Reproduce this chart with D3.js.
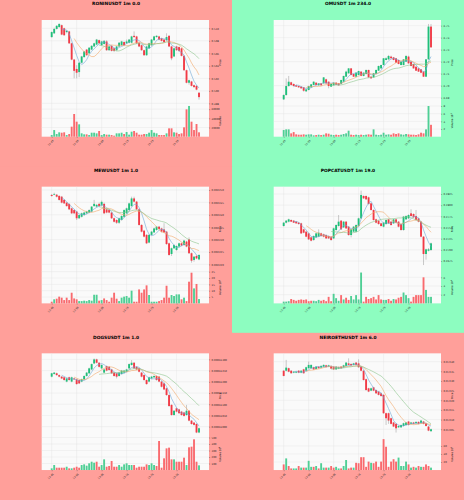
<!DOCTYPE html>
<html>
<head>
<meta charset="utf-8">
<script src="https://cdn.jsdelivr.net/npm/d3@7"></script>
<style>
  body { margin: 0; background: #fff; }
  svg { display: block; font-family: "DejaVu Sans", sans-serif; }
</style>
</head>
<body>
<svg id="chart" width="464" height="500"></svg>
<script>
// shared time axis (1m candles, one label every 10 candles)
var timeLabels = ["12:45", "12:55", "13:05", "13:15", "13:25", "13:35"];
var timeTickIndex = [0, 10, 20, 30, 40, 50];

// RONINUSDT 1m  [open, high, low, close]
var roninCandles = [
  [0.5086,0.5095,0.5085,0.5094],[0.5092,0.5101,0.5091,0.5099],[0.5099,0.5105,0.5098,0.5104],[0.5102,0.5108,0.5101,0.5107],
  [0.5105,0.5106,0.5089,0.5090],[0.5100,0.5101,0.5088,0.5089],[0.5094,0.5097,0.5092,0.5096],[0.5095,0.5096,0.5075,0.5076],
  [0.5076,0.5077,0.5049,0.5050],[0.5050,0.5051,0.5020,0.5032],[0.5035,0.5041,0.5020,0.5029],[0.5030,0.5046,0.5022,0.5045],
  [0.5045,0.5056,0.5044,0.5055],[0.5054,0.5064,0.5053,0.5063],[0.5066,0.5067,0.5056,0.5057],[0.5060,0.5070,0.5059,0.5069],
  [0.5066,0.5073,0.5065,0.5072],[0.5071,0.5077,0.5070,0.5076],[0.5074,0.5083,0.5073,0.5082],[0.5081,0.5082,0.5075,0.5076],
  [0.5073,0.5080,0.5072,0.5079],[0.5075,0.5081,0.5074,0.5080],[0.5079,0.5081,0.5064,0.5065],[0.5065,0.5072,0.5064,0.5071],
  [0.5072,0.5073,0.5063,0.5064],[0.5068,0.5069,0.5062,0.5064],[0.5065,0.5072,0.5064,0.5071],[0.5071,0.5078,0.5070,0.5077],
  [0.5073,0.5080,0.5072,0.5079],[0.5078,0.5079,0.5072,0.5073],[0.5076,0.5082,0.5075,0.5079],[0.5077,0.5083,0.5076,0.5082],
  [0.5077,0.5088,0.5076,0.5087],[0.5088,0.5095,0.5085,0.5086],[0.5087,0.5088,0.5075,0.5076],[0.5077,0.5078,0.5070,0.5071],
  [0.5073,0.5074,0.5064,0.5065],[0.5065,0.5066,0.5056,0.5057],[0.5057,0.5072,0.5056,0.5071],[0.5068,0.5077,0.5067,0.5076],
  [0.5073,0.5083,0.5072,0.5082],[0.5081,0.5088,0.5080,0.5087],[0.5086,0.5089,0.5085,0.5088],[0.5087,0.5088,0.5081,0.5082],
  [0.5084,0.5085,0.5079,0.5080],[0.5082,0.5083,0.5077,0.5078],[0.5081,0.5092,0.5080,0.5086],[0.5088,0.5089,0.5070,0.5071],
  [0.5071,0.5072,0.5049,0.5052],[0.5055,0.5069,0.5054,0.5068],[0.5071,0.5072,0.5064,0.5065],[0.5070,0.5071,0.5062,0.5064],
  [0.5068,0.5069,0.5055,0.5056],[0.5056,0.5057,0.5032,0.5033],[0.5033,0.5034,0.5012,0.5013],[0.5013,0.5018,0.5010,0.5017],
  [0.5015,0.5016,0.5007,0.5008],[0.5009,0.5010,0.5005,0.5006],[0.5008,0.5009,0.5001,0.5002],[0.4997,0.4998,0.4986,0.4990]
];
var roninVolume = [3600,14500,5800,9500,8700,9500,3600,5800,21800,49400,32700,26900,7300,5100,5100,3600,8700,8700,7300,12400,
  3600,5800,4400,4400,3600,2200,7300,7300,8700,5800,10200,4400,10900,12400,8700,4400,4400,5800,5800,8700,
  14500,8700,7300,3600,3600,3600,7300,18200,18200,9500,8700,5800,7300,20400,59600,66900,32700,14500,27600,9500];
var roninPriceTicks = [0.498, 0.500, 0.502, 0.504, 0.506, 0.508, 0.510];
var roninPriceRange = [0.49774, 0.51133];
var roninVolumeTicks = [20000, 40000, 60000];
var roninVolumeRange = [0, 69000];

// OMUSDT 1m
var omCandles = [
  [6.6886,6.6928,6.6881,6.6922],[6.6922,6.7061,6.6917,6.6997],[6.6997,6.7081,6.6992,6.7033],[6.7028,6.7033,6.7000,6.7006],
  [6.7014,6.7019,6.6994,6.6997],[6.7003,6.7008,6.6989,6.6992],[6.6997,6.7000,6.6983,6.6986],[6.6992,6.6995,6.6975,6.6978],
  [6.6986,6.6989,6.6950,6.6958],[6.6953,6.6972,6.6947,6.6969],[6.6964,6.7000,6.6961,6.6997],[6.6986,6.7014,6.6983,6.7011],
  [6.7006,6.7036,6.7003,6.7033],[6.7025,6.7028,6.7003,6.7006],[6.7003,6.7022,6.7000,6.7019],[6.7019,6.7022,6.7000,6.7003],
  [6.7019,6.7072,6.7017,6.7069],[6.7053,6.7058,6.7017,6.7019],[6.7033,6.7036,6.6978,6.6997],[6.6992,6.7017,6.6989,6.7014],
  [6.7003,6.7028,6.7000,6.7025],[6.7025,6.7028,6.7006,6.7008],[6.7019,6.7022,6.7000,6.7003],[6.7014,6.7050,6.7011,6.7047],
  [6.7033,6.7083,6.7031,6.7081],[6.7075,6.7125,6.7072,6.7117],[6.7103,6.7147,6.7100,6.7144],[6.7144,6.7147,6.7086,6.7089],
  [6.7097,6.7100,6.7072,6.7075],[6.7075,6.7111,6.7072,6.7108],[6.7089,6.7125,6.7086,6.7122],[6.7117,6.7120,6.7078,6.7081],
  [6.7081,6.7111,6.7078,6.7108],[6.7097,6.7133,6.7094,6.7131],[6.7131,6.7133,6.7067,6.7069],[6.7075,6.7078,6.7058,6.7061],
  [6.7069,6.7106,6.7067,6.7103],[6.7097,6.7133,6.7094,6.7131],[6.7125,6.7167,6.7122,6.7164],[6.7144,6.7175,6.7142,6.7172],
  [6.7172,6.7230,6.7169,6.7228],[6.7214,6.7236,6.7211,6.7228],[6.7219,6.7256,6.7217,6.7247],[6.7242,6.7250,6.7225,6.7228],
  [6.7236,6.7239,6.7211,6.7214],[6.7228,6.7231,6.7189,6.7192],[6.7214,6.7217,6.7178,6.7181],[6.7172,6.7206,6.7169,6.7200],
  [6.7172,6.7222,6.7169,6.7219],[6.7200,6.7256,6.7197,6.7247],[6.7242,6.7250,6.7183,6.7186],[6.7200,6.7203,6.7161,6.7164],
  [6.7181,6.7183,6.7142,6.7144],[6.7158,6.7161,6.7122,6.7125],[6.7144,6.7147,6.7114,6.7117],[6.7136,6.7139,6.7106,6.7108],
  [6.7117,6.7120,6.7072,6.7075],[6.7075,6.7222,6.7072,6.7219],[6.7219,6.7514,6.7217,6.7492],[6.7492,6.7514,6.7317,6.7319]
];
var omVolume = [1.74,1.91,1.91,0.87,1.2,0.61,0.52,0.52,0.61,0.52,0.61,0.61,0.35,0.43,0.52,0.43,0.52,0.87,0.78,0.52,
  0.43,0.52,0.43,0.52,0.7,0.87,1.57,0.52,0.43,0.52,0.43,0.52,0.43,0.52,0.61,0.52,1.91,0.52,0.43,0.52,
  1.04,0.52,0.61,0.52,0.87,0.7,0.87,0.61,0.52,0.7,0.61,0.52,0.52,0.43,0.61,1.04,0.87,1.91,8.0,3.1];
var omPriceTicks = [6.69, 6.70, 6.71, 6.72, 6.73, 6.74, 6.75];
var omPriceRange = [6.6839, 6.7547];
var omVolumeTicks = [2, 4, 6, 8];
var omVolumeRange = [0, 8.26];

// MEWUSDT 1m
var mewCandles = [
  [0.0022480,0.0022484,0.0022473,0.0022476],[0.0022481,0.0022489,0.0022479,0.0022484],[0.0022481,0.0022484,0.0022470,0.0022473],[0.0022476,0.0022479,0.0022457,0.0022460],
  [0.0022473,0.0022476,0.0022446,0.0022449],[0.0022460,0.0022463,0.0022444,0.0022446],[0.0022449,0.0022452,0.0022433,0.0022435],[0.0022444,0.0022446,0.0022419,0.0022422],
  [0.0022426,0.0022429,0.0022403,0.0022406],[0.0022419,0.0022422,0.0022403,0.0022406],[0.0022413,0.0022416,0.0022379,0.0022386],[0.0022386,0.0022402,0.0022383,0.0022399],
  [0.0022392,0.0022409,0.0022389,0.0022406],[0.0022399,0.0022413,0.0022395,0.0022409],[0.0022406,0.0022416,0.0022403,0.0022413],[0.0022409,0.0022422,0.0022406,0.0022419],
  [0.0022413,0.0022435,0.0022410,0.0022433],[0.0022435,0.0022460,0.0022433,0.0022444],[0.0022433,0.0022444,0.0022430,0.0022440],[0.0022444,0.0022449,0.0022433,0.0022435],
  [0.0022438,0.0022457,0.0022435,0.0022452],[0.0022444,0.0022449,0.0022403,0.0022406],[0.0022422,0.0022426,0.0022406,0.0022409],[0.0022419,0.0022422,0.0022406,0.0022409],
  [0.0022409,0.0022412,0.0022383,0.0022386],[0.0022386,0.0022389,0.0022369,0.0022372],[0.0022379,0.0022382,0.0022363,0.0022368],[0.0022368,0.0022389,0.0022363,0.0022386],
  [0.0022379,0.0022398,0.0022376,0.0022395],[0.0022392,0.0022422,0.0022389,0.0022419],[0.0022406,0.0022429,0.0022403,0.0022426],[0.0022419,0.0022449,0.0022416,0.0022446],
  [0.0022435,0.0022473,0.0022433,0.0022466],[0.0022466,0.0022473,0.0022450,0.0022453],[0.0022453,0.0022456,0.0022419,0.0022422],[0.0022422,0.0022426,0.0022356,0.0022359],
  [0.0022359,0.0022362,0.0022329,0.0022332],[0.0022336,0.0022339,0.0022309,0.0022312],[0.0022319,0.0022322,0.0022282,0.0022285],[0.0022288,0.0022322,0.0022285,0.0022319],
  [0.0022319,0.0022335,0.0022316,0.0022332],[0.0022329,0.0022348,0.0022326,0.0022345],[0.0022339,0.0022355,0.0022336,0.0022352],[0.0022352,0.0022355,0.0022340,0.0022343],
  [0.0022345,0.0022348,0.0022329,0.0022332],[0.0022341,0.0022366,0.0022326,0.0022329],[0.0022332,0.0022335,0.0022279,0.0022282],[0.0022285,0.0022288,0.0022235,0.0022238],
  [0.0022242,0.0022268,0.0022234,0.0022265],[0.0022265,0.0022281,0.0022262,0.0022278],[0.0022258,0.0022277,0.0022255,0.0022274],[0.0022272,0.0022288,0.0022269,0.0022285],
  [0.0022285,0.0022288,0.0022273,0.0022276],[0.0022278,0.0022299,0.0022275,0.0022296],[0.0022292,0.0022295,0.0022269,0.0022272],[0.0022301,0.0022309,0.0022242,0.0022245],
  [0.0022245,0.0022248,0.0022207,0.0022215],[0.0022218,0.0022234,0.0022211,0.0022231],[0.0022234,0.0022237,0.0022221,0.0022224],[0.0022220,0.0022241,0.0022217,0.0022238]
];
var mewVolume = [1.3,3.2,3.7,5.3,4.5,2.6,4.5,2.6,8.4,3.9,3.2,1.8,1.8,2.1,1.8,2.6,2.1,6.8,6.8,2.1,
  2.6,3.9,2.6,1.3,4.5,8.4,3.7,1.8,4.5,5.3,5.8,4.5,10,1.3,1.3,11,8.4,11,14.2,6.6,
  1.3,1.3,1.3,1.8,2.6,4.5,13.9,4.5,6.6,5.8,7.1,7.1,3.2,4.5,1.8,17.1,24.2,11.8,15.3,3.4];
var mewPriceTicks = [0.002220, 0.002225, 0.002230, 0.002235, 0.002240, 0.002245, 0.002250];
var mewPriceRange = [0.00221707, 0.00225134];
var mewVolumeTicks = [5, 10, 15, 20, 25];
var mewVolumeRange = [0, 25];

// POPCATUSDT 1m
var popcatCandles = [
  [0.27534,0.27623,0.27519,0.27608],[0.27608,0.27668,0.27593,0.27653],[0.27631,0.27698,0.27616,0.27683],[0.27668,0.27683,0.27623,0.27631],
  [0.27653,0.27668,0.27601,0.27608],[0.27631,0.27646,0.27586,0.27593],[0.27608,0.27623,0.27563,0.27578],[0.27593,0.27608,0.27354,0.27369],
  [0.27459,0.27474,0.27370,0.27384],[0.27407,0.27422,0.27280,0.27295],[0.27369,0.27384,0.27220,0.27235],[0.27280,0.27295,0.27190,0.27205],
  [0.27220,0.27325,0.27205,0.27310],[0.27280,0.27384,0.27265,0.27369],[0.27295,0.27459,0.27280,0.27384],[0.27369,0.27384,0.27295,0.27310],
  [0.27347,0.27362,0.27280,0.27295],[0.27332,0.27347,0.27242,0.27257],[0.27310,0.27325,0.27242,0.27257],[0.27295,0.27310,0.27205,0.27220],
  [0.27257,0.27496,0.27242,0.27481],[0.27444,0.27571,0.27429,0.27556],[0.27534,0.27780,0.27519,0.27631],[0.27653,0.27668,0.27444,0.27459],
  [0.27504,0.27646,0.27489,0.27631],[0.27631,0.27646,0.27466,0.27481],[0.27519,0.27534,0.27317,0.27332],[0.27332,0.27474,0.27280,0.27459],
  [0.27407,0.27534,0.27392,0.27519],[0.27407,0.27571,0.27392,0.27556],[0.27534,0.27720,0.27519,0.27705],[0.27705,0.28325,0.27690,0.28228],
  [0.28205,0.28220,0.28138,0.28153],[0.28205,0.28220,0.28116,0.28131],[0.28175,0.28190,0.28011,0.28026],[0.28041,0.28056,0.27877,0.27892],
  [0.27892,0.27907,0.27653,0.27668],[0.27683,0.27698,0.27593,0.27608],[0.27653,0.27668,0.27563,0.27578],[0.27593,0.27608,0.27519,0.27534],
  [0.27519,0.27623,0.27504,0.27608],[0.27578,0.27683,0.27563,0.27668],[0.27683,0.27698,0.27578,0.27593],[0.27631,0.27646,0.27541,0.27556],
  [0.27593,0.27698,0.27578,0.27683],[0.27683,0.27698,0.27593,0.27608],[0.27631,0.27646,0.27504,0.27519],[0.27578,0.27593,0.27429,0.27444],
  [0.27444,0.27758,0.27429,0.27743],[0.27683,0.27773,0.27668,0.27758],[0.27705,0.27795,0.27690,0.27780],[0.27817,0.27907,0.27743,0.27758],
  [0.27802,0.27817,0.27713,0.27728],[0.27758,0.27892,0.27653,0.27668],[0.27705,0.27720,0.27616,0.27631],[0.27631,0.27646,0.27280,0.27295],
  [0.27295,0.27310,0.26660,0.26907],[0.26907,0.27026,0.26781,0.27011],[0.26981,0.27041,0.26966,0.27011],[0.26996,0.27161,0.26981,0.27146]
];
var popcatVolume = [0.4,0.4,0.5,1.0,0.8,0.6,0.8,0.9,0.8,0.9,0.5,0.6,0.6,0.5,0.8,0.6,0.8,0.5,1.5,0.5,
  2.2,1.2,0.6,1.9,0.9,1.3,0.8,1.7,0.9,1.9,0.9,7.1,0.4,1.5,1.0,1.2,1.5,0.9,1.9,0.9,
  0.8,0.8,1.0,0.6,1.0,0.9,1.3,1.5,2.5,1.9,1.2,0.4,1.5,1.9,1.9,1.9,6.0,3.1,1.5,1.5];
var popcatPriceTicks = [0.2675, 0.2700, 0.2725, 0.2750, 0.2775, 0.2800, 0.2825];
var popcatPriceRange = [0.26512, 0.28414];
var popcatVolumeTicks = [2, 4, 6];
var popcatVolumeRange = [0, 7.3];

// DOGSUSDT 1m
var dogsCandles = [
  [0.00061223,0.00061240,0.00061220,0.00061238],[0.00061235,0.00061244,0.00061232,0.00061241],[0.00061238,0.00061241,0.00061227,0.00061230],[0.00061230,0.00061233,0.00061220,0.00061223],
  [0.00061223,0.00061226,0.00061212,0.00061215],[0.00061220,0.00061223,0.00061205,0.00061208],[0.00061201,0.00061218,0.00061198,0.00061215],[0.00061220,0.00061223,0.00061205,0.00061208],
  [0.00061201,0.00061223,0.00061198,0.00061220],[0.00061215,0.00061218,0.00061208,0.00061211],[0.00061211,0.00061214,0.00061187,0.00061190],[0.00061208,0.00061211,0.00061190,0.00061193],
  [0.00061201,0.00061214,0.00061198,0.00061211],[0.00061211,0.00061229,0.00061208,0.00061226],[0.00061226,0.00061244,0.00061223,0.00061241],[0.00061238,0.00061263,0.00061235,0.00061260],
  [0.00061255,0.00061282,0.00061252,0.00061279],[0.00061282,0.00061304,0.00061279,0.00061300],[0.00061300,0.00061303,0.00061282,0.00061285],[0.00061285,0.00061288,0.00061264,0.00061267],
  [0.00061260,0.00061278,0.00061257,0.00061275],[0.00061241,0.00061258,0.00061238,0.00061255],[0.00061270,0.00061273,0.00061247,0.00061250],[0.00061267,0.00061270,0.00061250,0.00061253],
  [0.00061255,0.00061258,0.00061235,0.00061238],[0.00061241,0.00061244,0.00061223,0.00061226],[0.00061238,0.00061241,0.00061215,0.00061223],[0.00061226,0.00061244,0.00061223,0.00061241],
  [0.00061235,0.00061253,0.00061232,0.00061250],[0.00061241,0.00061253,0.00061238,0.00061250],[0.00061245,0.00061258,0.00061242,0.00061255],[0.00061260,0.00061282,0.00061257,0.00061279],
  [0.00061275,0.00061297,0.00061272,0.00061285],[0.00061285,0.00061288,0.00061257,0.00061260],[0.00061267,0.00061270,0.00061252,0.00061255],[0.00061260,0.00061263,0.00061242,0.00061245],
  [0.00061241,0.00061244,0.00061220,0.00061223],[0.00061230,0.00061233,0.00061205,0.00061208],[0.00061208,0.00061211,0.00061187,0.00061190],[0.00061201,0.00061223,0.00061198,0.00061220],
  [0.00061215,0.00061226,0.00061212,0.00061223],[0.00061220,0.00061229,0.00061217,0.00061226],[0.00061226,0.00061229,0.00061205,0.00061208],[0.00061223,0.00061226,0.00061198,0.00061201],
  [0.00061201,0.00061204,0.00061175,0.00061178],[0.00061193,0.00061196,0.00061163,0.00061166],[0.00061171,0.00061174,0.00061138,0.00061141],[0.00061141,0.00061144,0.00061089,0.00061092],
  [0.00061097,0.00061100,0.00061049,0.00061052],[0.00061052,0.00061074,0.00061049,0.00061071],[0.00061082,0.00061085,0.00061064,0.00061067],[0.00061077,0.00061080,0.00061057,0.00061060],
  [0.00061067,0.00061070,0.00061049,0.00061052],[0.00061063,0.00061066,0.00061045,0.00061048],[0.00061052,0.00061097,0.00061049,0.00061071],[0.00061071,0.00061074,0.00061024,0.00061027],
  [0.00061027,0.00061030,0.00061009,0.00061012],[0.00061018,0.00061021,0.00061005,0.00061008],[0.00061012,0.00061015,0.00060971,0.00060974],[0.00060974,0.00060996,0.00060971,0.00060993]
];
var dogsVolume = [26,77,36,36,36,36,51,26,26,36,51,36,77,87,67,103,128,113,128,51,
  77,164,51,62,139,51,51,77,51,87,103,77,77,77,36,51,51,51,87,77,
  103,77,62,446,36,180,333,344,164,164,128,128,128,190,77,349,359,472,128,72];
var dogsPriceTicks = [0.00061000, 0.00061050, 0.00061100, 0.00061150, 0.00061200, 0.00061250, 0.00061300];
var dogsPriceRange = [0.00060948, 0.00061327];
var dogsVolumeTicks = [100, 200, 300, 400, 500];
var dogsVolumeRange = [0, 487];

// NEIROETHUSDT 1m
var neiroCandles = [
  [0.072353,0.072356,0.072324,0.072326],[0.072353,0.072409,0.072350,0.072369],[0.072366,0.072369,0.072345,0.072348],[0.072353,0.072356,0.072337,0.072340],
  [0.072343,0.072351,0.072340,0.072348],[0.072343,0.072351,0.072340,0.072348],[0.072353,0.072356,0.072340,0.072343],[0.072343,0.072356,0.072340,0.072353],
  [0.072360,0.072363,0.072337,0.072340],[0.072353,0.072374,0.072350,0.072371],[0.072366,0.072400,0.072363,0.072383],[0.072366,0.072386,0.072363,0.072383],
  [0.072371,0.072374,0.072357,0.072360],[0.072362,0.072377,0.072359,0.072374],[0.072374,0.072377,0.072363,0.072366],[0.072369,0.072381,0.072366,0.072378],
  [0.072374,0.072386,0.072371,0.072383],[0.072381,0.072384,0.072369,0.072372],[0.072374,0.072384,0.072371,0.072381],[0.072378,0.072381,0.072361,0.072364],
  [0.072374,0.072377,0.072357,0.072360],[0.072360,0.072377,0.072357,0.072374],[0.072364,0.072374,0.072361,0.072371],[0.072374,0.072377,0.072363,0.072366],
  [0.072371,0.072384,0.072368,0.072381],[0.072378,0.072398,0.072375,0.072395],[0.072391,0.072417,0.072380,0.072383],[0.072388,0.072391,0.072378,0.072381],
  [0.072383,0.072394,0.072380,0.072391],[0.072395,0.072398,0.072380,0.072383],[0.072391,0.072412,0.072368,0.072371],[0.072374,0.072377,0.072350,0.072353],
  [0.072353,0.072356,0.072302,0.072305],[0.072309,0.072312,0.072250,0.072253],[0.072262,0.072265,0.072242,0.072245],[0.072250,0.072265,0.072247,0.072262],
  [0.072267,0.072270,0.072247,0.072250],[0.072253,0.072256,0.072233,0.072236],[0.072245,0.072248,0.072225,0.072228],[0.072236,0.072239,0.072219,0.072222],
  [0.072228,0.072231,0.072130,0.072133],[0.072133,0.072136,0.072072,0.072107],[0.072133,0.072136,0.072078,0.072095],[0.072107,0.072110,0.072075,0.072078],
  [0.072085,0.072088,0.072061,0.072064],[0.072078,0.072081,0.072033,0.072055],[0.072060,0.072070,0.072057,0.072067],[0.072060,0.072075,0.072057,0.072072],
  [0.072067,0.072084,0.072064,0.072081],[0.072072,0.072088,0.072069,0.072085],[0.072090,0.072093,0.072069,0.072072],[0.072078,0.072088,0.072075,0.072085],
  [0.072085,0.072088,0.072075,0.072078],[0.072081,0.072091,0.072078,0.072088],[0.072088,0.072091,0.072075,0.072078],[0.072081,0.072098,0.072078,0.072095],
  [0.072090,0.072093,0.072075,0.072078],[0.072081,0.072084,0.072064,0.072067],[0.072064,0.072067,0.072040,0.072043],[0.072040,0.072053,0.072037,0.072050]
];
var neiroVolume = [14,29,10,4,4,4,10,6,6,6,23,8,8,10,4,17,6,6,6,10,
  6,8,4,4,10,25,4,6,6,18,17,32,32,8,21,18,17,21,8,21,
  77,58,8,21,27,21,31,10,10,21,14,6,8,6,10,8,8,14,10,6];
var neiroPriceTicks = [0.07205, 0.07210, 0.07215, 0.07220, 0.07225, 0.07230, 0.07235, 0.07240];
var neiroPriceRange = [0.072003, 0.072443];
var neiroVolumeTicks = [20, 40, 60];
var neiroVolumeRange = [0, 79];

var panels = [
  { title: "RONINUSDT 1m 0.0", bg: "#ff9f9a", candles: roninCandles, volume: roninVolume,
    priceTicks: roninPriceTicks, priceRange: roninPriceRange, priceFmt: ".3f",
    volTicks: roninVolumeTicks, volRange: roninVolumeRange, volExp: null },
  { title: "OMUSDT 1m 234.0", bg: "#8dfdc0", candles: omCandles, volume: omVolume,
    priceTicks: omPriceTicks, priceRange: omPriceRange, priceFmt: ".2f",
    volTicks: omVolumeTicks, volRange: omVolumeRange, volExp: "3" },
  { title: "MEWUSDT 1m 1.0", bg: "#ff9f9a", candles: mewCandles, volume: mewVolume,
    priceTicks: mewPriceTicks, priceRange: mewPriceRange, priceFmt: ".6f",
    volTicks: mewVolumeTicks, volRange: mewVolumeRange, volExp: "6" },
  { title: "POPCATUSDT 1m 19.0", bg: "#8dfdc0", candles: popcatCandles, volume: popcatVolume,
    priceTicks: popcatPriceTicks, priceRange: popcatPriceRange, priceFmt: ".4f",
    volTicks: popcatVolumeTicks, volRange: popcatVolumeRange, volExp: "4" },
  { title: "DOGSUSDT 1m 1.0", bg: "#ff9f9a", candles: dogsCandles, volume: dogsVolume,
    priceTicks: dogsPriceTicks, priceRange: dogsPriceRange, priceFmt: ".8f",
    volTicks: dogsVolumeTicks, volRange: dogsVolumeRange, volExp: "6" },
  { title: "NEIROETHUSDT 1m 6.0", bg: "#ff9f9a", candles: neiroCandles, volume: neiroVolume,
    priceTicks: neiroPriceTicks, priceRange: neiroPriceRange, priceFmt: ".5f",
    volTicks: neiroVolumeTicks, volRange: neiroVolumeRange, volExp: "3" }
];

var PW = 232, PH = 500 / 3;
var UP = "#1fbf7a", DOWN = "#f23a46";
var VOL_UP = "#4fcf95", VOL_DOWN = "#f96a6e";
var MA_COLORS = ["#6fa8d6", "#f2a868", "#8cc48c"];
var MA_WINDOWS = [5, 10, 20];

var svg = d3.select("#chart");

// backgrounds first, slightly oversized so no seams show between tiles
panels.forEach(function(p, k) {
  svg.append("rect")
    .attr("x", (k % 2) * PW).attr("y", Math.floor(k / 2) * PH - 0.5)
    .attr("width", PW + 0.5).attr("height", PH + 1)
    .attr("fill", p.bg);
});

panels.forEach(function(p, k) {
  var g = svg.append("g")
    .attr("transform", "translate(" + (k % 2) * PW + "," + Math.floor(k / 2) * PH + ")");
  drawPanel(g, p);
});

function drawPanel(g, p) {
  var left = 41.7, right = 209, top = 20, mid = 105, bottom = 136.7;

  g.append("text")
    .attr("x", PW / 2).attr("y", 5.2)
    .attr("text-anchor", "middle")
    .attr("font-weight", "bold")
    .attr("font-size", 4.4)
    .text(p.title);

  var x = d3.scaleLinear().domain([-4, 63]).range([left, right]);
  var y = d3.scaleLinear().domain(p.priceRange).range([mid, top]);
  var yv = d3.scaleLinear().domain(p.volRange).range([bottom, mid]);

  g.append("rect")
    .attr("x", left).attr("y", top)
    .attr("width", right - left).attr("height", bottom - top)
    .attr("fill", "#fafafa");

  // grid
  var grid = g.append("g").attr("stroke", "#e2e2e2").attr("stroke-width", 0.4);
  grid.selectAll("line.v").data(timeTickIndex).join("line").attr("class", "v")
    .attr("x1", function(d) { return x(d); }).attr("x2", function(d) { return x(d); })
    .attr("y1", top).attr("y2", bottom);
  grid.selectAll("line.h").data(p.priceTicks).join("line").attr("class", "h")
    .attr("x1", left).attr("x2", right)
    .attr("y1", function(d) { return y(d); }).attr("y2", function(d) { return y(d); });
  grid.selectAll("line.hv").data(p.volTicks).join("line").attr("class", "hv")
    .attr("x1", left).attr("x2", right)
    .attr("y1", function(d) { return yv(d); }).attr("y2", function(d) { return yv(d); });

  var bw = x(0.75) - x(0);

  // volume bars
  g.append("g").selectAll("rect").data(p.volume).join("rect")
    .attr("x", function(d, i) { return x(i) - bw / 2; })
    .attr("width", bw)
    .attr("y", function(d) { return yv(d); })
    .attr("height", function(d) { return yv(0) - yv(d); })
    .attr("fill", function(d, i) { var c = p.candles[i]; return c[3] >= c[0] ? VOL_UP : VOL_DOWN; });

  // wicks
  g.append("g").selectAll("line").data(p.candles).join("line")
    .attr("x1", function(d, i) { return x(i); }).attr("x2", function(d, i) { return x(i); })
    .attr("y1", function(d) { return y(d[1]); }).attr("y2", function(d) { return y(d[2]); })
    .attr("stroke", "#8a8a8a").attr("stroke-width", 0.45);

  // bodies
  g.append("g").selectAll("rect").data(p.candles).join("rect")
    .attr("x", function(d, i) { return x(i) - bw / 2; })
    .attr("width", bw)
    .attr("y", function(d) { return y(Math.max(d[0], d[3])); })
    .attr("height", function(d) { return Math.max(0.35, Math.abs(y(d[0]) - y(d[3]))); })
    .attr("fill", function(d) { return d[3] >= d[0] ? UP : DOWN; });

  // moving averages of close
  var closes = p.candles.map(function(d) { return d[3]; });
  MA_WINDOWS.forEach(function(n, j) {
    var pts = [];
    for (var i = n - 1; i < closes.length; i++) {
      pts.push([i, d3.mean(closes.slice(i - n + 1, i + 1))]);
    }
    g.append("path").datum(pts)
      .attr("d", d3.line().x(function(d) { return x(d[0]); }).y(function(d) { return y(d[1]); }))
      .attr("fill", "none")
      .attr("stroke", MA_COLORS[j])
      .attr("stroke-width", 0.6);
  });

  // right axes
  var ya = g.append("g").attr("transform", "translate(" + right + ",0)")
    .call(d3.axisRight(y).tickValues(p.priceTicks).tickFormat(d3.format(p.priceFmt)).tickSize(1.2).tickPadding(1.4));
  styleAxis(ya);

  var va = g.append("g").attr("transform", "translate(" + right + ",0)")
    .call(d3.axisRight(yv).tickValues(p.volTicks).tickFormat(d3.format("d")).tickSize(1.2).tickPadding(1.4));
  styleAxis(va);

  var xa = g.append("g").attr("transform", "translate(0," + bottom + ")")
    .call(d3.axisBottom(x).tickValues(timeTickIndex).tickFormat(function(d, i) { return timeLabels[i]; }).tickSize(1.2));
  styleAxis(xa);
  xa.selectAll("text")
    .attr("text-anchor", "end")
    .attr("dy", 0)
    .attr("transform", function() { return "translate(1.8,4.2) rotate(-45)"; })
    .attr("y", 0);

  // axis titles
  g.append("text")
    .attr("transform", "translate(221," + ((top + mid) / 2) + ") rotate(-90)")
    .attr("text-anchor", "middle")
    .attr("font-size", 2.6)
    .text("Price");

  var vt = g.append("text")
    .attr("transform", "translate(221," + ((mid + bottom) / 2) + ") rotate(-90)")
    .attr("text-anchor", "middle")
    .attr("font-size", 2.6)
    .text("Volume");
  if (p.volExp) {
    vt.append("tspan").text("  10");
    vt.append("tspan").attr("dy", -1).attr("font-size", 1.9).text(p.volExp);
  }
}

function styleAxis(a) {
  a.select(".domain").remove();
  a.attr("font-size", 2.55).attr("font-family", "DejaVu Sans, sans-serif");
  a.selectAll("line").attr("stroke", "#444").attr("stroke-width", 0.35);
  a.selectAll("text").attr("fill", "#222");
}
</script>
</body>
</html>
